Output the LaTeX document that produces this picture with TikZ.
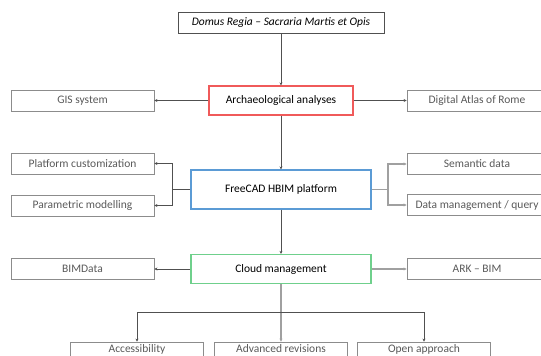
\documentclass[tikz,border=0pt]{standalone}
\usepackage{fontspec}
\setmainfont{Carlito}
\usetikzlibrary{arrows.meta}

\definecolor{boxgray}{HTML}{8C8C8C}
\definecolor{txtgray}{HTML}{595959}
\definecolor{linedark}{HTML}{505050}
\definecolor{linelight}{HTML}{A0A0A0}
\definecolor{archred}{HTML}{F05A5A}
\definecolor{hbimblue}{HTML}{5B9BD5}
\definecolor{cloudgreen}{HTML}{6FD08C}

\tikzset{
  sidebox/.style={draw=boxgray, line width=0.8pt, text=txtgray, minimum height=21pt, inner sep=0pt},
  mainbox/.style={line width=1.2pt, text=black, minimum width=180pt, inner sep=0pt},
  link/.style={draw=linedark, line width=0.8pt, -{Stealth[length=3pt,width=3pt]}},
  lightlink/.style={draw=linelight, line width=1.1pt, -{Stealth[length=3pt,width=3pt]}}
}

\begin{document}
\begin{tikzpicture}[x=1pt, y=-1pt, font=\fontsize{11.5}{13}\selectfont]
\useasboundingbox (0,0) rectangle (541,356);

% Main column
\node[draw=linedark, line width=0.8pt, minimum width=206pt, minimum height=21pt, inner sep=0pt, font=\fontsize{11.5}{13}\selectfont\itshape] (domus) at (281,23) {Domus Regia -- Sacraria Martis et Opis};
\node[mainbox, draw=archred, minimum width=144pt, minimum height=29pt] (arch) at (281,100.5) {Archaeological analyses};
\node[mainbox, draw=hbimblue, minimum height=39pt] (hbim) at (281,189.5) {FreeCAD HBIM platform};
\node[mainbox, draw=cloudgreen, minimum height=29pt] (cloud) at (281,269) {Cloud management};

% Side boxes
\node[sidebox, minimum width=143pt] (gis) at (82.5,100.5) {GIS system};
\node[sidebox, minimum width=140pt] (atlas) at (477,100.5) {Digital Atlas of Rome};
\node[sidebox, minimum width=143pt] (custom) at (82.5,163.5) {Platform customization};
\node[sidebox, minimum width=143pt] (param) at (82.5,205.5) {Parametric modelling};
\node[sidebox, minimum width=140pt] (semantic) at (477,164) {Semantic data};
\node[sidebox, minimum width=140pt] (query) at (477,205) {Data management / query};
\node[sidebox, minimum width=143pt] (bimdata) at (82.5,269) {BIMData};
\node[sidebox, minimum width=140pt] (ark) at (477,269) {ARK -- BIM};

% Bottom row (cut by the page edge)
\node[sidebox, minimum width=133pt, text depth=7pt] (access) at (137,352.5) {Accessibility};
\node[sidebox, minimum width=133pt, text depth=7pt] (revis) at (281,352.5) {Advanced revisions};
\node[sidebox, minimum width=133pt, text depth=7pt] (openap) at (424,352.5) {Open approach};

\coordinate (lfork) at (172.5,189.5);
\coordinate (rfork) at (388,189.5);
\coordinate (bus) at (281,312);

\draw[link] (domus) -- (arch);
\draw[link] (arch) -- (hbim);
\draw[link] (hbim) -- (cloud);
\draw[link] (arch) -- (gis);
\draw[link] (arch) -- (atlas);

\draw[linedark, line width=0.8pt] (hbim.west) -- (lfork);
\draw[link] (lfork) |- (custom.east);
\draw[link] (lfork) |- (param.east);
\draw[linelight, line width=1.1pt] (hbim.east) -- (rfork);
\draw[lightlink] (rfork) |- (semantic.west);
\draw[lightlink] (rfork) |- (query.west);

\draw[link] (cloud) -- (bimdata);
\draw[lightlink] (cloud) -- (ark);
\draw[lightlink] (cloud) -- (revis);
\draw[link] (bus) -| (access.north);
\draw[link] (bus) -| (openap.north);
\end{tikzpicture}
\end{document}
